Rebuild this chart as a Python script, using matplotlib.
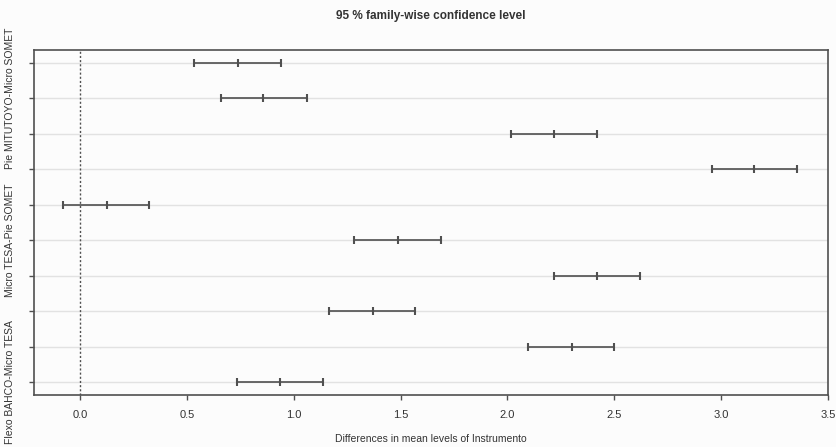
import matplotlib
matplotlib.use('Agg')
import matplotlib.pyplot as plt

plt.rcParams['font.family'] = ['Liberation Sans', 'DejaVu Sans']

# Tukey HSD comparisons, top to bottom (only some labels are printed, as in R)
comparisons = ['', 'Pie MITUTOYO-Micro SOMET', '', '', '',
               'Micro TESA-Pie SOMET', '', '', '', 'Flexo BAHCO-Micro TESA']
diff = [0.738, 0.858, 2.220, 3.156, 0.125, 1.486, 2.421, 1.369, 2.300, 0.938]
lwr = [0.533, 0.659, 2.019, 2.955, -0.079, 1.282, 2.220, 1.165, 2.098, 0.734]
upr = [0.940, 1.060, 2.421, 3.356, 0.325, 1.690, 2.622, 1.567, 2.500, 1.138]
xticks = [0.0, 0.5, 1.0, 1.5, 2.0, 2.5, 3.0, 3.5]

dark = '#505050'
rows = list(range(1, len(diff) + 1))

fig = plt.figure(figsize=(8.36, 4.47), dpi=100, facecolor='#fcfcfc')
ax = fig.add_axes([0.0407, 0.1163, 0.9497, 0.7718])
ax.set_facecolor('#fcfcfc')

for y in rows:
    ax.axhline(y, color='#e2e2e2', linewidth=1.0, zorder=1)
ax.axvline(0, color=dark, linestyle=(0, (1.5, 1.5)), linewidth=1.0, zorder=2)

for y, lo, d, hi in zip(rows, lwr, diff, upr):
    ax.plot([lo, hi], [y, y], color=dark, linewidth=1.2, zorder=3)
    ax.plot([lo, d, hi], [y, y, y], linestyle='none', marker='|',
            markersize=5.5, markeredgewidth=1.5, color=dark, zorder=3)

ax.set_xlim(-0.215, 3.5)
ax.set_ylim(10.366, 0.634)
ax.set_xticks(xticks)
ax.set_xticklabels(['%.1f' % t for t in xticks], fontsize=8, color='#333333')
ax.set_yticks(rows)
ax.set_yticklabels(comparisons, rotation=90, va='center', fontsize=7.5,
                   color='#333333')
ax.tick_params(axis='both', direction='out', length=3.5, width=1.0,
               color=dark, pad=7.5)
ax.tick_params(axis='y', pad=10)

for s in ax.spines.values():
    s.set_color(dark)
    s.set_linewidth(1.2)

ax.set_xlabel('Differences in mean levels of Instrumento', fontsize=7.5,
              color='#333333', labelpad=10)
ax.set_title('95 % family-wise confidence level', fontsize=8.5,
             fontweight='bold', color='#333333', pad=22)

plt.savefig('out.png', dpi=100, facecolor=fig.get_facecolor())
